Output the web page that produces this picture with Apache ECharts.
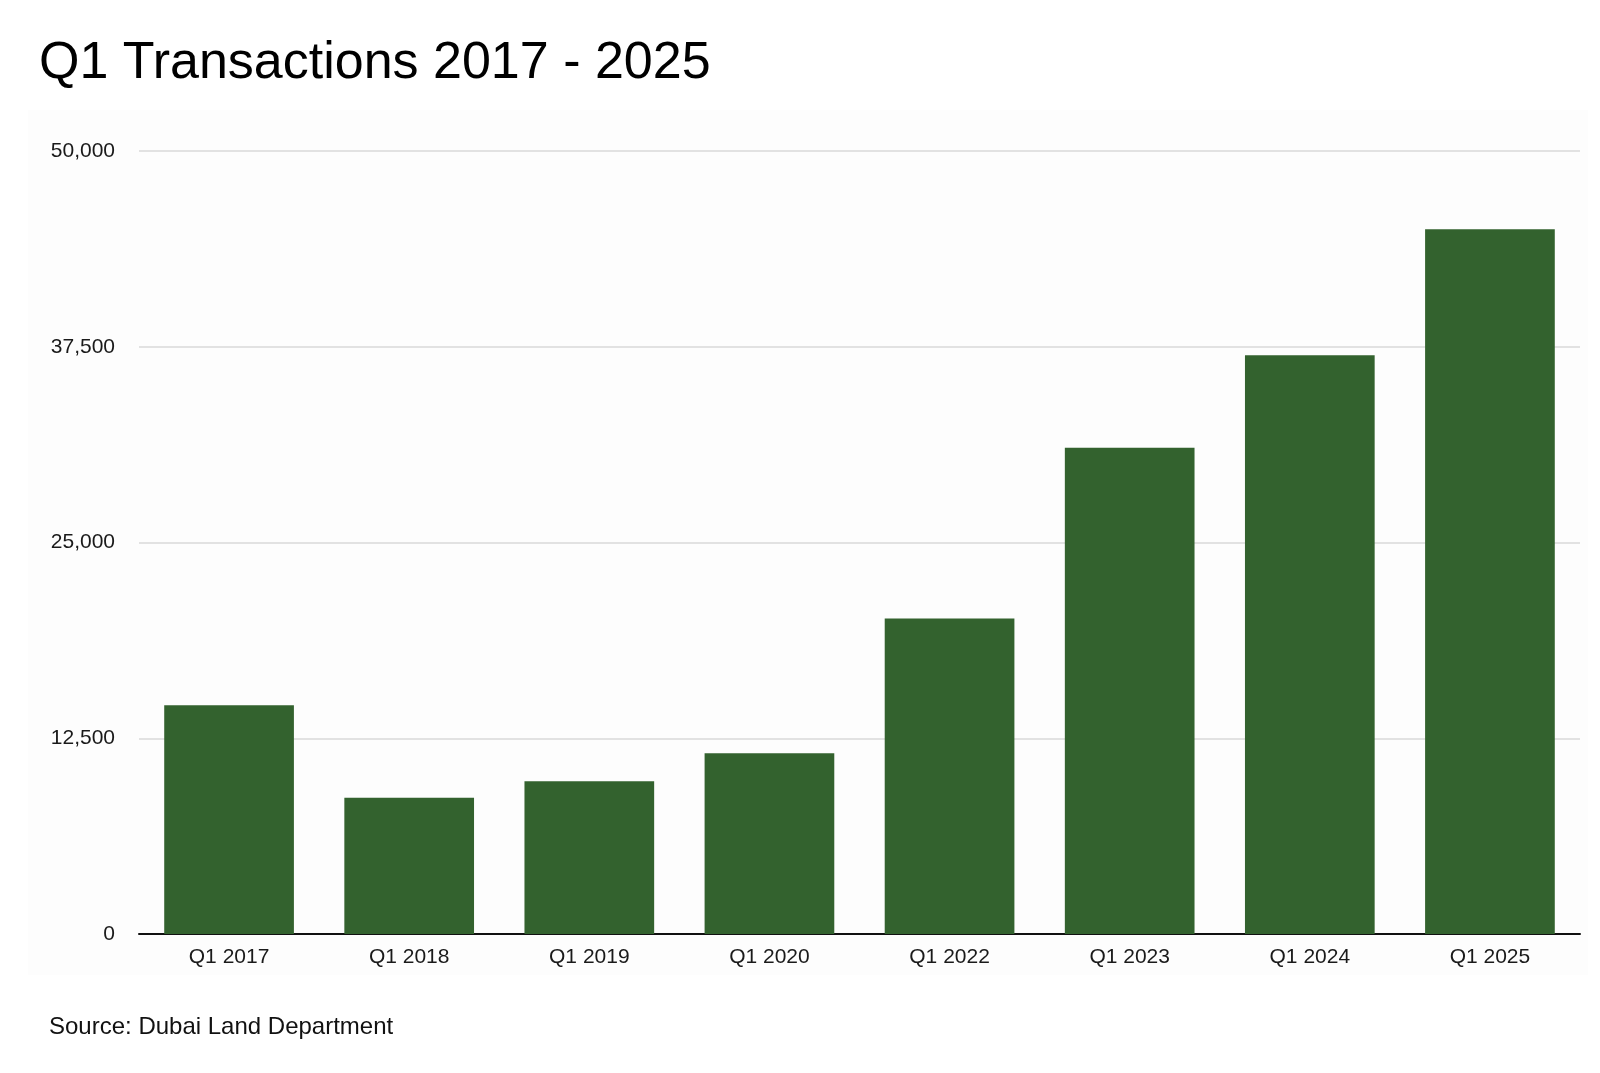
<!DOCTYPE html>
<html>
<head>
<meta charset="utf-8">
<script src="https://cdn.jsdelivr.net/npm/echarts@6/dist/echarts.min.js"></script>
<style>
  html, body { margin: 0; padding: 0; background: #fff; }
  #container { width: 1600px; height: 1073px; }
</style>
</head>
<body>
<div id="container"></div>
<script>
// 数据
var categories = ['Q1 2017', 'Q1 2018', 'Q1 2019', 'Q1 2020', 'Q1 2022', 'Q1 2023', 'Q1 2024', 'Q1 2025'];
var transactions = [14600, 8700, 9750, 11550, 20150, 31050, 36950, 45000];
var yTicks = [0, 12500, 25000, 37500, 50000];

var fontName = '"Liberation Sans", Arial, Helvetica, sans-serif';

var dom = document.getElementById('container');
var myChart = echarts.init(dom);

var option = {
    backgroundColor: '#ffffff',
    animation: false,
    title: {
        text: 'Q1 Transactions 2017 - 2025',
        left: 34,
        top: 33,
        textStyle: {
            fontFamily: fontName,
            fontSize: 52,
            fontWeight: 'normal',
            color: '#000'
        }
    },
    //控制4周margin
    grid: {
        left: 139,
        right: 20,
        top: 151,
        bottom: 139
    },
    xAxis: {
        type: 'category',
        data: categories,
        axisTick: { show: false },
        axisLine: {
            lineStyle: { color: '#111', width: 2 }
        },
        axisLabel: {
            margin: 13,
            fontFamily: fontName,
            fontSize: 21,
            color: '#1a1a1a'
        }
    },
    yAxis: {
        type: 'value',
        min: yTicks[0],
        max: yTicks[yTicks.length - 1],
        interval: yTicks[1] - yTicks[0],
        axisLine: { show: false },
        axisTick: { show: false },
        axisLabel: {
            margin: 24,
            fontFamily: fontName,
            fontSize: 21,
            color: '#1a1a1a',
            formatter: function (v) {
                return v.toLocaleString('en-US');
            }
        },
        //分割线
        splitLine: {
            show: true,
            lineStyle: { color: '#d9d9d9', width: 1.5 }
        }
    },
    series: [{
        name: 'Transactions',
        type: 'bar',
        data: transactions,
        barCategoryGap: '28%',
        itemStyle: { color: '#33622e' }
    }],
    graphic: [{
        type: 'rect',
        z: -10,
        shape: { x: 28, y: 110, width: 1560, height: 865 },
        style: { fill: '#fdfdfd' }
    }, {
        type: 'text',
        left: 49,
        top: 1015,
        style: {
            text: 'Source: Dubai Land Department',
            font: '24px ' + fontName,
            fill: '#111'
        }
    }]
};

myChart.setOption(option, true);
</script>
</body>
</html>
